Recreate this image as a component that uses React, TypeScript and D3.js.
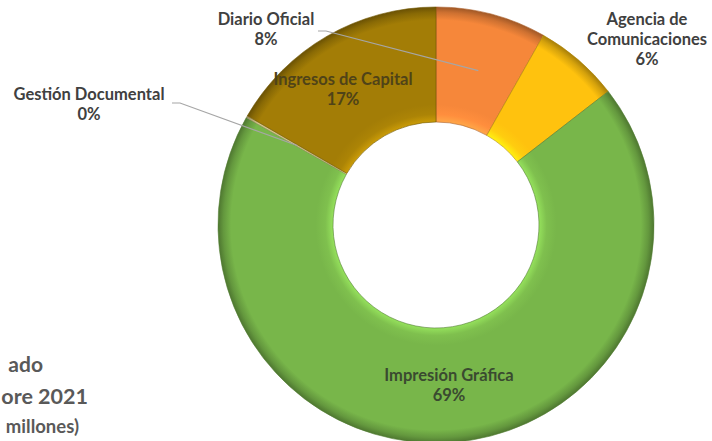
import React from "react";
import * as d3 from "d3";

const categories = ["Diario Oficial", "Agencia de Comunicaciones", "Impresión Gráfica", "Gestión Documental", "Ingresos de Capital"];
const values = [8.2, 6.3, 68.7, 0.15, 16.65];
const percentLabels = ["8%", "6%", "69%", "0%", "17%"];
const colors = ["#F6873A", "#FFC20E", "#78B64A", "#D9C98A", "#A37D06"];
const titleLines = ["ado", "ore 2021", "millones)"];

const W = 712, H = 441;
const cx = 436, cy = 225, R = 218, r0 = 103;

export default function App() {
  const pie = d3.pie<number>().sort(null).value((d) => d);
  const arcs = pie(values);
  const arc = d3.arc<d3.PieArcDatum<number>>().innerRadius(r0).outerRadius(R);
  const pt = (a: number, rr: number) => [cx + rr * Math.sin(a), cy - rr * Math.cos(a)];
  const font = "Lato, 'Open Sans', sans-serif";
  const lighten = (c: string, k: number) => d3.color(c)!.brighter(k).formatHex();
  const darken = (c: string, k: number) => d3.color(c)!.darker(k).formatHex();
  const f0 = r0 / R;

  const labelPos: { x: number; y: number; lines: string[]; color: string; leader?: number[][] }[] = [];
  const dAng = (arcs[0].startAngle + arcs[0].endAngle) / 2;
  const dp = pt(dAng + 0.01, 160);
  labelPos.push({ x: 266, y: 25, lines: [categories[0], percentLabels[0]], color: "#404040", leader: [[318, 31], [326, 31], dp] });
  labelPos.push({ x: 647, y: 25, lines: ["Agencia de", "Comunicaciones", percentLabels[1]], color: "#404040" });
  labelPos.push({ x: 449, y: 381, lines: [categories[2], percentLabels[2]], color: "#3a4a30" });
  const gAng = (arcs[3].startAngle + arcs[3].endAngle) / 2;
  const gp = pt(gAng, 160);
  labelPos.push({ x: 89, y: 100, lines: [categories[3], percentLabels[3]], color: "#404040", leader: [[172, 103], [180, 103], gp] });
  labelPos.push({ x: 343, y: 85, lines: [categories[4], percentLabels[4]], color: "#4f4318" });

  return (
    <svg width={W} height={H} style={{ position: "fixed", left: 0, top: 0, background: "#fff" }} fontFamily={font}>
      <defs>
        {colors.map((c, i) => (
          <radialGradient key={i} id={`g${i}`} gradientUnits="userSpaceOnUse" cx={0} cy={0} r={R}>
            <stop offset={f0} stopColor={lighten(c, 0.6)} />
            <stop offset={f0 + 0.035} stopColor={lighten(c, 0.15)} />
            <stop offset={f0 + 0.08} stopColor={c} />
            <stop offset={0.94} stopColor={c} />
            <stop offset={0.975} stopColor={darken(c, 0.5)} />
            <stop offset={1} stopColor={darken(c, 1.2)} />
          </radialGradient>
        ))}
      </defs>
      <g transform={`translate(${cx},${cy})`}>
        {arcs.map((a, i) => (
          <path key={i} d={arc(a) || ""} fill={`url(#g${i})`} stroke={darken(colors[i], 1)} strokeOpacity={0.6} strokeWidth={1} />
        ))}
      </g>
      {labelPos.map((l, i) => (
        <g key={i}>
          {l.leader && (
            <polyline points={l.leader.map((p) => p.join(",")).join(" ")} fill="none" stroke="#A6A6A6" strokeWidth={1.2} />
          )}
          {l.lines.map((t, j) => (
            <text key={j} x={l.x} y={l.y + j * 20} textAnchor="middle" fontSize={16.5} fontWeight={700} fill={l.color}>
              {t}
            </text>
          ))}
        </g>
      ))}
      <text x={43} y={372} textAnchor="end" fontSize={21} fontWeight={700} fill="#595959">{titleLines[0]}</text>
      <text x={88} y={404} textAnchor="end" fontSize={21.5} fontWeight={700} fill="#595959">{titleLines[1]}</text>
      <text x={79} y={433} textAnchor="end" fontSize={18.5} fontWeight={700} fill="#595959">{titleLines[2]}</text>
    </svg>
  );
}
